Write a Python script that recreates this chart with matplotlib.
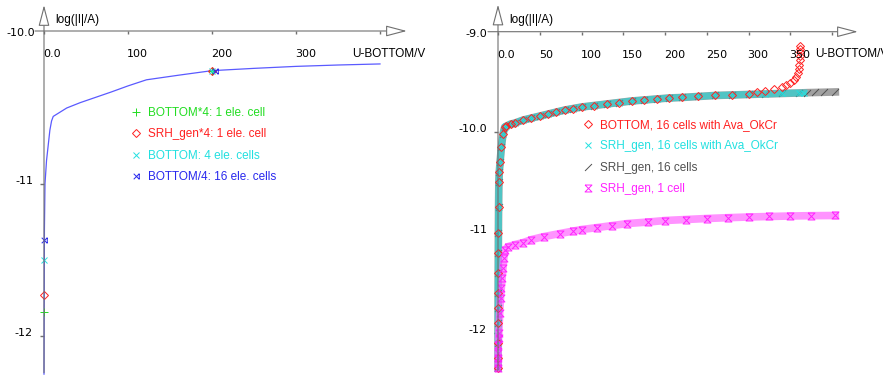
import numpy as np
import matplotlib
matplotlib.use('Agg')
import matplotlib.pyplot as plt
from matplotlib.path import Path

plt.rcParams['font.family'] = ['Liberation Sans', 'DejaVu Sans']

W, H = 883, 377

# ---- left panel data ----
u_left = [0, 0.5, 1.2, 3, 5, 7, 9, 11, 27, 43, 80, 100, 122, 160, 200, 250, 300, 350, 400]
i_left = [-12.25, -11.3, -11.0, -10.85, -10.75, -10.65, -10.59, -10.56, -10.505, -10.47,
          -10.40, -10.36, -10.32, -10.29, -10.26, -10.245, -10.232, -10.223, -10.216]
left_names = ['BOTTOM*4: 1 ele. cell', 'SRH_gen*4: 1 ele. cell',
              'BOTTOM: 4 ele. cells', 'BOTTOM/4: 16 ele. cells']
left_mark_u = [[0, 200], [0, 200], [0, 200], [0, 204]]
left_mark_i = [[-11.84, -10.26], [-11.73, -10.26], [-11.5, -10.26], [-11.37, -10.26]]

# ---- right panel data ----
u_grey = [0, 0.02, 0.05, 0.1, 0.15, 0.2, 0.3, 0.4, 0.5, 0.7, 1.0, 1.5, 2.5, 4, 6, 8, 10, 15, 20,
          30, 40, 50, 60, 70, 80, 90, 100, 115, 130, 145, 160, 175, 190, 205, 220, 240, 260,
          280, 300, 320, 340, 360, 370, 380, 390, 404]
i_grey = [-12.35, -12.25, -12.1, -11.9, -11.75, -11.6, -11.4, -11.2, -11.0, -10.75, -10.5, -10.4,
          -10.3, -10.15, -10.02, -9.95, -9.94, -9.92, -9.91, -9.88, -9.86, -9.84, -9.82, -9.80,
          -9.78, -9.765, -9.75, -9.735, -9.72, -9.705, -9.69, -9.68, -9.67, -9.66, -9.655,
          -9.645, -9.635, -9.63, -9.625, -9.62, -9.615, -9.61, -9.607, -9.605, -9.603, -9.60]
u_cyan = u_grey[:42] + [366]
i_cyan = i_grey[:42] + [-9.61]
u_red = u_grey[:39] + [310, 320, 330, 340, 345, 350, 354, 357, 359, 360, 361, 361.5, 362, 362, 362, 362]
i_red = i_grey[:39] + [-9.605, -9.59, -9.575, -9.55, -9.535, -9.51, -9.48, -9.45, -9.41, -9.37,
                       -9.33, -9.28, -9.24, -9.20, -9.17, -9.14]
u_mag = [0, 0.05, 0.1, 0.2, 0.4, 0.7, 1.0, 2, 3, 4, 5, 6, 7, 8.5, 12, 20, 30, 40, 55, 74, 90,
         100, 119, 137, 155, 180, 200, 225, 250, 275, 300, 325, 350, 375, 404]
i_mag = [-12.35, -12.3, -12.25, -12.2, -12.12, -12.05, -12.0, -11.8, -11.65, -11.55, -11.45,
         -11.35, -11.25, -11.17, -11.14, -11.12, -11.1, -11.07, -11.04, -11.01, -10.985, -10.97,
         -10.95, -10.93, -10.91, -10.895, -10.88, -10.87, -10.86, -10.852, -10.845, -10.84,
         -10.835, -10.832, -10.83]
right_names = ['BOTTOM, 16 cells with Ava_OkCr', 'SRH_gen, 16 cells with Ava_OkCr',
               'SRH_gen, 16 cells', 'SRH_gen, 1 cell']

# custom markers
bow = Path([(-1, -1), (1, 1), (-1, 1), (1, -1), (1, -1), (1, 1)],
           [Path.MOVETO, Path.LINETO, Path.MOVETO, Path.LINETO, Path.MOVETO, Path.LINETO])
hour = Path([(-1, 1), (1, 1), (-1, -1), (1, -1), (-1, 1)],
            [Path.MOVETO, Path.LINETO, Path.LINETO, Path.LINETO, Path.LINETO])
slash = Path([(-1, -1), (1, 1)], [Path.MOVETO, Path.LINETO])

c_green, c_red, c_cyan, c_blue = '#22dd22', '#ff2020', '#22e0e0', '#2828ee'
c_grey, c_mag = '#505050', '#ff22ff'
axc = '#707070'
tick_font = dict(fontsize=8, family='DejaVu Sans')

fig = plt.figure(figsize=(W / 100, H / 100), dpi=100)


def panel(x0, x400, ytop, ybot, vtop, vbot):
    ax = fig.add_axes([x0 / W, 1 - ybot / H, (x400 - x0) / W, (ybot - ytop) / H])
    ax.set_xlim(0, 400)
    ax.set_ylim(vbot, vtop)
    ax.axis('off')
    return ax


def arrow(ax, start, tip):
    ax.annotate('', xy=tip, xytext=start, annotation_clip=False,
                arrowprops=dict(arrowstyle='-|>,head_length=0.65,head_width=0.17',
                                mutation_scale=20, fc='white', ec=axc, lw=0.8,
                                shrinkA=0, shrinkB=0))


def ticks(ax, xt, xlab, yt, ylab, y0):
    for v, s in zip(xt, xlab):
        ax.plot([v], [y0], marker=[(0, 0), (0, -1)], ms=4, color=axc, clip_on=False)
        if s:
            ax.annotate(s, xy=(v, y0), xytext=(-1, -23), textcoords='offset pixels',
                        ha='left', va='center', annotation_clip=False, **tick_font)
    for v, s in zip(yt, ylab):
        ax.plot([0], [v], marker=[(0, 0), (-1, 0)], ms=6, color=axc, clip_on=False)
        ax.annotate(s, xy=(0, v), xytext=(-11, 3), textcoords='offset pixels',
                    ha='right', va='center', annotation_clip=False, **tick_font)


# ---------------- left panel ----------------
axL = panel(44, 380, 31, 336, -10.0, -12.0)
arrow(axL, (-10.7, -10.0), (432, -10.0))
arrow(axL, (0, -12.24), (0, -9.83))
ticks(axL, [0, 100, 200, 300, 400], ['0.0', '100', '200', '300', ''],
      [-11, -12], ['-11', '-12'], -10.0)
axL.annotate('-10.0', xy=(0, -10.0), xytext=(-9, -2), textcoords='offset pixels',
             ha='right', va='center', annotation_clip=False, **tick_font)
axL.plot(u_left, i_left, color='#5a5aff', lw=0.9, clip_on=False)
left_cols = [c_green, c_red, c_cyan, c_blue]
left_marks = ['+', 'D', 'x', bow]
left_ms = [6, 4, 5, 4]
hL = []
for k in range(4):
    h, = axL.plot(left_mark_u[k], left_mark_i[k], ls='none', marker=left_marks[k],
                  ms=left_ms[k], mfc='none', mec=left_cols[k], mew=0.7, clip_on=False,
                  label=left_names[k])
    hL.append(h)
fig.legend(handles=hL, loc='upper left', bbox_to_anchor=(124 / W, 1 - 101 / H),
           frameon=False, fontsize=8.5, handlelength=1.0, handletextpad=0.5,
           labelspacing=0.8, borderpad=0, labelcolor='markeredgecolor')
fig.text(55 / W, 1 - 20 / H, 'log(|I|/A)', fontsize=8.5, va='center', ha='left')
fig.text(352 / W, 1 - 54 / H, 'U-BOTTOM/V', fontsize=8.5, va='center', ha='left')

# ---------------- right panel ----------------
axR = panel(498, 832, 31.7, 333, -9.0, -12.0)
arrow(axR, (-12, -9.0), (431, -9.0))
arrow(axR, (0, -12.37), (0, -8.73))
ticks(axR, [0, 50, 100, 150, 200, 250, 300, 350, 400],
      ['0.0', '50', '100', '150', '200', '250', '300', '350', ''],
      [-10, -11, -12], ['-10.0', '-11', '-12'], -9.0)
axR.annotate('-9.0', xy=(0, -9.0), xytext=(-11, -2), textcoords='offset pixels',
             ha='right', va='center', annotation_clip=False, **tick_font)

# dense bands under the markers
axR.plot(u_grey, i_grey, color='#555555', lw=5.5, alpha=0.55, clip_on=False)
axR.plot(u_cyan, i_cyan, color='#00e8e8', lw=5, alpha=0.5, clip_on=False)
axR.plot(u_mag, i_mag, color='#ff66ff', lw=5.5, alpha=0.7, clip_on=False)

hg, = axR.plot(u_grey, i_grey, ls='none', marker=slash, ms=5, mfc='none', mec=c_grey,
               mew=0.7, clip_on=False, label=right_names[2])
hc, = axR.plot(u_cyan, i_cyan, ls='none', marker='x', ms=5, mfc='none', mec=c_cyan,
               mew=0.7, clip_on=False, label=right_names[1])
hr, = axR.plot(u_red, i_red, ls='none', marker='D', ms=4, mfc='none', mec=c_red,
               mew=0.7, clip_on=False, label=right_names[0])
hm, = axR.plot(u_mag, i_mag, ls='none', marker=hour, ms=5, mfc='none', mec=c_mag,
               mew=0.7, clip_on=False, label=right_names[3])
fig.legend(handles=[hr, hc, hg, hm], loc='upper left', bbox_to_anchor=(576 / W, 1 - 113 / H),
           frameon=False, fontsize=8.5, handlelength=1.0, handletextpad=0.5,
           labelspacing=0.8, borderpad=0, labelcolor='markeredgecolor')
fig.text(509 / W, 1 - 20 / H, 'log(|I|/A)', fontsize=8.5, va='center', ha='left')
fig.text(815 / W, 1 - 54 / H, 'U-BOTTOM/V', fontsize=8.5, va='center', ha='left')

fig.savefig('out.png', dpi=100)
